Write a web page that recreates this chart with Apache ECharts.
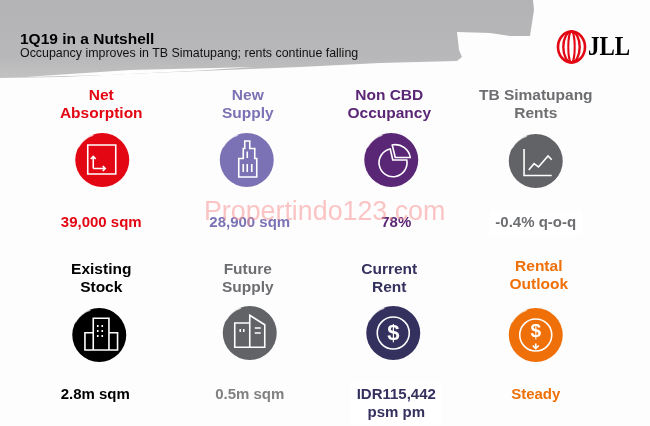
<!DOCTYPE html>
<html>
<head>
<meta charset="utf-8">
<title>1Q19 in a Nutshell</title>
<style>
  html, body { margin: 0; padding: 0; background: #fefdfd; }
  #chart { width: 650px; height: 426px; }
</style>
<script src="https://cdn.jsdelivr.net/npm/echarts@6/dist/echarts.min.js"></script>
</head>
<body>
<div id="chart"></div>
<script>
// tile content, left to right and top to bottom
var columns = ["c1", "c2", "c3", "c4"];
var rows = ["top", "bottom"];
var tileTitles = [
  "Net\nAbsorption", "New\nSupply", "Non CBD\nOccupancy", "TB Simatupang\nRents",
  "Existing\nStock", "Future\nSupply", "Current\nRent", "Rental\nOutlook"
];
var tileValues = [
  "39,000 sqm", "28,900 sqm", "78%", "-0.4% q-o-q",
  "2.8m sqm", "0.5m sqm", "IDR115,442\npsm pm", "Steady"
];
var tileIcons = ["area", "tower", "pie", "trend", "office", "future", "dollar", "dollarDown"];

// colours
var discColors = ["#e30613", "#7a72b4", "#5a2676", "#626366", "#000000", "#626366", "#35315f", "#ef7008"];
var titleColors = ["#e30613", "#7a72b4", "#5a2676", "#6d6e71", "#000000", "#6d6e71", "#35315f", "#ef7008"];
var valueColors = ["#e30613", "#7a72b4", "#5a2676", "#6d6e71", "#000000", "#808080", "#35315f", "#ef7008"];

// hand placed offsets from the grid cell centre, the tiles are not quite aligned
var discNudge = [[0, 0], [0, 0], [0, 0], [0, 1], [-3, 1], [3, -1], [2, -1], [0, 1]];
var titleNudge = [[-1, -55], [1, -55], [-2, -55], [0, -55], [-1, -55], [1, -55], [-2, -55], [3, -58]];
var valueNudge = [[-1, 63], [3, 63], [5, 63], [0, 63], [-7, 61], [3, 61], [5, 70], [0, 61]];

var iconPaths = {
  area: "M-14.5 -15H13.5V14H-14.5Z M-9 8.5V-3.5 M-11.5 -1L-9 -3.5L-6.5 -1 M-9 8.5H3 M0.5 6L3 8.5L0.5 11",
  tower: "M-2 -19H3V-11.5H8V-1.5H10V17H-8V-1.5H-3.5V-11.5H-2Z M0.5 -8.5V-2 M-3.5 4V12 M0.5 4V12 M5 4V12",
  pie: "M-1 -11L1.5 0H15.5A14 14 0 1 1 -1 -11Z M1 -15L4 -2.5H19A15 15 0 0 0 1 -15Z",
  trend: "M-11.7 -12V14.5H16 M-7 9L-1.7 2.7L2.7 6L12.3 -5L16 -1.3",
  office: "M-6 15V-16.7H9.7V15 M-6 -2.3H-14.3V15H18.3V-2.3H9.7 M-1.5 -10V-8 M3 -10V-8 M-1.5 -5V-3 M3 -5V-3 M-1.5 0V2 M3 0V2",
  future: "M0 14.3V-10H-15V14.3H15V-8.3L0 -17.7V-10 M-9.5 -4V-1 M-6 -4V-1 M5 -5H11 M5 0H11",
  dollar: "",
  dollarDown: "M0 8.5V13.5 M-3 10.5L0 13.5L3 10.5"
};

var tiles = tileTitles.map(function(title, i) {
  return { value: [columns[i % 4], rows[Math.floor(i / 4)]], index: i };
});

var chart = echarts.init(document.getElementById("chart"));

function renderDisc(params, api) {
  var p = api.coord([api.value(0), api.value(1)]);
  var i = params.dataIndex;
  var white = { fill: "none", stroke: "#fff", lineWidth: 1.6, lineJoin: "miter" };
  var children = [
    { type: "circle", shape: { cx: 0, cy: 0, r: 27 }, style: { fill: discColors[i] } },
    // brush mark on the rim
    { type: "path", shape: { d: "M-24 -13A27 27 0 0 1 -9 -25" }, style: { fill: "none", stroke: "rgba(255,255,255,.75)", lineWidth: 1.6 } }
  ];
  if (tileIcons[i].indexOf("dollar") === 0) {
    var down = tileIcons[i] === "dollarDown";
    children.push({ type: "circle", shape: { cx: 0, cy: 0, r: 16 }, style: white });
    children.push({
      type: "text",
      style: { x: 0, y: down ? -3 : 1, text: "$", fill: "#fff", font: (down ? "bold 19px" : "bold 22px") + " 'Liberation Sans'", textAlign: "center", textVerticalAlign: "middle" }
    });
  }
  if (iconPaths[tileIcons[i]]) {
    children.push({ type: "path", shape: { d: iconPaths[tileIcons[i]] }, style: white });
  }
  return { type: "group", x: p[0] + discNudge[i][0], y: p[1] + discNudge[i][1], children: children };
}

function textSeries(name, texts, colors, nudge, size) {
  return {
    name: name,
    type: "scatter",
    symbolSize: 0,
    silent: true,
    z: 5,
    itemStyle: { opacity: 1 },
    data: tiles.map(function(t, i) {
      var boxed = name === "values" && (i === 3 || i === 6);
      return {
        value: t.value,
        label: {
          show: true,
          position: "inside",
          offset: nudge[i],
          formatter: texts[i],
          color: colors[i],
          opacity: 1,
          fontFamily: "Liberation Sans",
          fontWeight: "bold",
          fontSize: size,
          lineHeight: 18,
          align: "center",
          backgroundColor: boxed ? "#ffffff" : "transparent",
          padding: boxed ? [3, 6] : 0
        }
      };
    })
  };
}

var option = {
  backgroundColor: "#fefdfd",
  animation: false,
  // band widths put the column centres at 102..535 and the row centres at 160, 334
  grid: { left: 30, width: 578, top: 73, height: 348 },
  xAxis: { type: "category", data: columns, show: false },
  yAxis: { type: "category", data: rows, inverse: true, show: false },
  graphic: [
    {
      // grey brush stroke behind the heading
      type: "polygon",
      z: 0,
      shape: {
        points: [[0, 0], [533, 0], [534, 10], [530, 36], [510, 36], [490, 33], [457, 32], [459, 50], [462, 57], [457, 61], [380, 63], [300, 67], [150, 73], [60, 77], [0, 78]]
      },
      style: {
        fill: new echarts.graphic.LinearGradient(0, 0, 0, 1, [
          { offset: 0, color: "#b3b3b5" },
          { offset: 0.75, color: "#b8b8ba" },
          { offset: 1, color: "#c2c2c2" }
        ])
      }
    },
    {
      // dry streak along the lower edge of the brush
      type: "polygon",
      z: 0,
      shape: { points: [[25, 77], [130, 70], [255, 67], [200, 70.5], [110, 75]] },
      style: { fill: "#fefdfd" }
    },
    {
      type: "text", z: 1, left: 20, top: 32,
      style: { text: "1Q19 in a Nutshell", fill: "#000", font: "bold 15.5px 'Liberation Sans'" }
    },
    {
      type: "text", z: 1, left: 20, top: 48,
      style: { text: "Occupancy improves in TB Simatupang; rents continue falling", fill: "#111", font: "12.4px 'Liberation Sans'" }
    },
    // JLL logo
    { type: "ellipse", z: 1, shape: { cx: 571.5, cy: 47, rx: 13.5, ry: 15.5 }, style: { fill: "none", stroke: "#e30613", lineWidth: 2.6 } },
    { type: "ellipse", z: 1, shape: { cx: 571.5, cy: 47, rx: 8.2, ry: 15.5 }, style: { fill: "none", stroke: "#e30613", lineWidth: 2.4 } },
    { type: "ellipse", z: 1, shape: { cx: 571.5, cy: 47, rx: 3.2, ry: 15.5 }, style: { fill: "none", stroke: "#e30613", lineWidth: 2 } },
    {
      type: "text", z: 1, x: 588, y: 34.5, scaleY: 1.2,
      style: { text: "JLL", fill: "#000", font: "bold 23px 'Liberation Serif'" }
    },
    // site watermark
    {
      type: "text", z: 10, left: 204, top: 199,
      style: { text: "Propertindo123.com", fill: "rgba(248,150,150,.55)", font: "26.8px 'Liberation Sans'" }
    }
  ],
  series: [
    {
      name: "discs",
      type: "custom",
      coordinateSystem: "cartesian2d",
      silent: true,
      z: 3,
      encode: { x: 0, y: 1 },
      renderItem: renderDisc,
      data: tiles.map(function(t) { return t.value; })
    },
    textSeries("titles", tileTitles, titleColors, titleNudge, 15.5),
    textSeries("values", tileValues, valueColors, valueNudge, 15)
  ]
};
chart.setOption(option);

window.addEventListener("resize", function() {
  chart.resize();
});
</script>
</body>
</html>
